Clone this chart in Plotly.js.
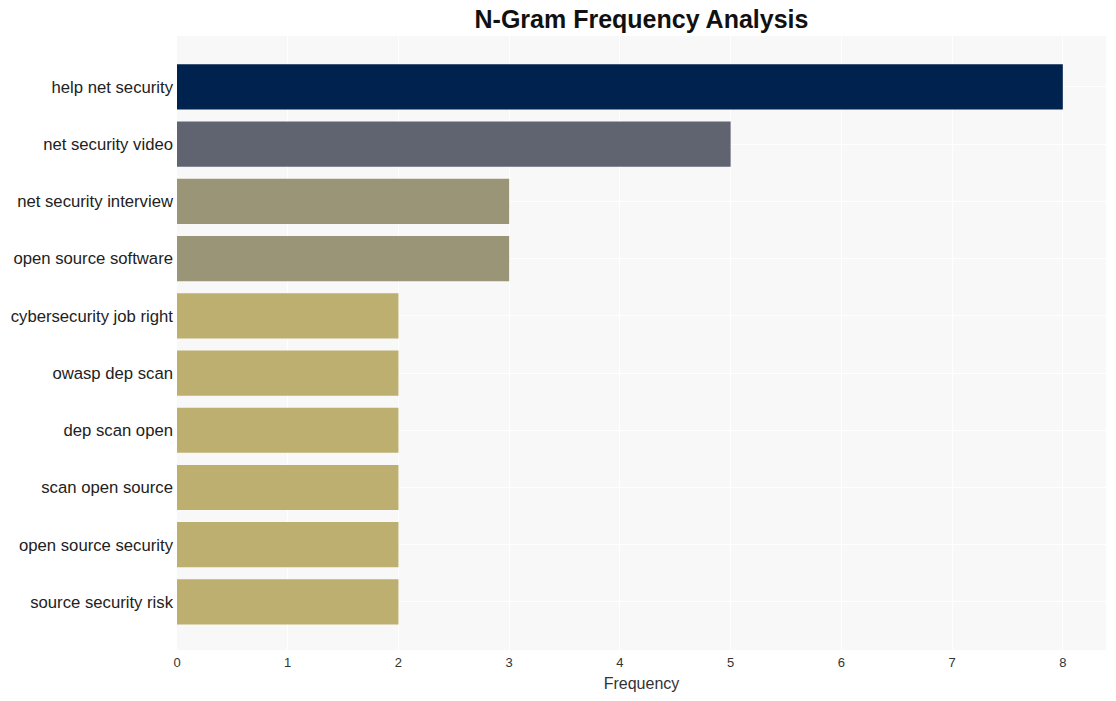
<!DOCTYPE html>
<html>
<head>
<meta charset="utf-8">
<script src="https://cdn.plot.ly/plotly-3.0.1.min.js"></script>
<style>html,body{margin:0;padding:0;background:#fff;}#chart{width:1116px;height:701px;}</style>
</head>
<body>
<div id="chart"></div>
<script>
const categories = ["help net security","net security video","net security interview","open source software","cybersecurity job right","owasp dep scan","dep scan open","scan open source","open source security","source security risk"];
const frequencies = [8,5,3,3,2,2,2,2,2,2];
const barColors = ["#00224e","#5f6470","#9b9577","#9b9577","#bcaf6f","#bcaf6f","#bcaf6f","#bcaf6f","#bcaf6f","#bcaf6f"];
const xTicks = [0,1,2,3,4,5,6,7,8];

Plotly.newPlot("chart", [{
  type: "bar",
  orientation: "h",
  x: frequencies,
  y: categories,
  marker: {color: barColors},
  width: 0.79,
  hoverinfo: "x+y"
}], {
  width: 1116, height: 701,
  margin: {l: 177, r: 10, t: 36, b: 51},
  paper_bgcolor: "#ffffff",
  plot_bgcolor: "#f8f8f8",
  font: {family: "Liberation Sans, Arial, sans-serif", color: "#222"},
  title: {text: "<b>N-Gram Frequency Analysis</b>", x: 0.5, xref: "paper", xanchor: "center", y: 0.985, yanchor: "top", yref: "container", font: {size: 25, color: "#111"}},
  xaxis: {
    range: [0, 8.39],
    tickvals: xTicks,
    ticktext: xTicks.map(String),
    gridcolor: "#ffffff", gridwidth: 1,
    zeroline: false,
    tickfont: {size: 13, color: "#333"},
    title: {text: "Frequency", font: {size: 16, color: "#333"}, standoff: 8},
    ticks: "", ticklabelstandoff: 3
  },
  yaxis: {
    type: "category",
    range: [9.84, -0.89],
    gridcolor: "#ffffff", gridwidth: 1,
    tickfont: {size: 16.7, color: "#222"},
    ticks: "", ticklabelstandoff: 3
  },
  showlegend: false
}, {displayModeBar: false});
</script>
</body>
</html>
